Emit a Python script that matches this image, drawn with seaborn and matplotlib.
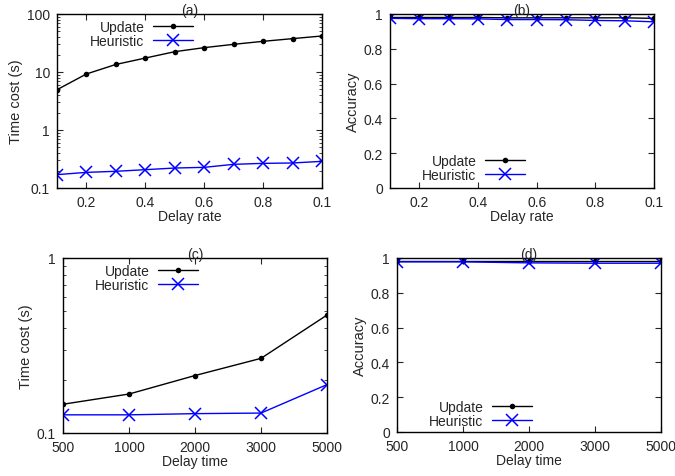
import numpy as np
import pandas as pd
import matplotlib
matplotlib.use("Agg")
import matplotlib.pyplot as plt
import matplotlib.ticker as mticker
import seaborn as sns

# datos
delay_rate = [0.1, 0.2, 0.3, 0.4, 0.5, 0.6, 0.7, 0.8, 0.9, 1.0]
rate_ticks = [0.2, 0.4, 0.6, 0.8, 1.0]
rate_tick_labels = ["0.2", "0.4", "0.6", "0.8", "0.1"]
time_update_rate = [4.95, 9.25, 13.5, 17.4, 22.4, 26.3, 30.0, 33.8, 37.6, 41.8]
time_heur_rate = [0.170, 0.186, 0.194, 0.207, 0.221, 0.227, 0.256, 0.266, 0.270, 0.288]
acc_update_rate = [0.98, 0.98, 0.98, 0.98, 0.978, 0.978, 0.978, 0.978, 0.978, 0.975]
acc_heur_rate = [0.975, 0.973, 0.973, 0.972, 0.968, 0.968, 0.967, 0.963, 0.961, 0.955]

delay_time = ["500", "1000", "2000", "3000", "5000"]
time_update_dt = [0.146, 0.167, 0.213, 0.267, 0.472]
time_heur_dt = [0.127, 0.127, 0.129, 0.130, 0.189]
acc_update_dt = [0.98, 0.98, 0.98, 0.98, 0.98]
acc_heur_dt = [0.978, 0.978, 0.972, 0.970, 0.970]

series = ["Update", "Heuristic"]

sns.set_style("ticks")
plt.rcParams['font.family'] = ['Liberation Sans', 'DejaVu Sans']
plt.rcParams['font.size'] = 10
plt.rcParams['xtick.direction'] = 'in'
plt.rcParams['ytick.direction'] = 'in'
plt.rcParams['xtick.top'] = True
plt.rcParams['ytick.right'] = True

fig = plt.figure(figsize=(6.75, 4.77), dpi=100)
W, H = 675.0, 477.0


def make_ax(l, t, r, b):
    return fig.add_axes([l / W, 1 - b / H, (r - l) / W, (b - t) / H])


ax_a = make_ax(57, 15, 322, 189)
ax_b = make_ax(390, 15, 654, 189)
ax_c = make_ax(63, 259, 327, 434)
ax_d = make_ax(397, 259, 661, 433)


def dibujar(ax, x, y_up, y_heur):
    # Update: linea negra con puntos
    sns.lineplot(x=x, y=y_up, color="black", marker="o", markersize=4,
                 markeredgewidth=0, markeredgecolor="black",
                 sort=False, lw=1, ax=ax, label=series[0])
    # Heuristic: linea azul con cruces
    sns.lineplot(x=x, y=y_heur, color="#0000ff", marker="x", markersize=9,
                 markeredgewidth=1.1, markeredgecolor="#0000ff",
                 sort=False, lw=1, ax=ax, label=series[1])
    for sp in ax.spines.values():
        sp.set_linewidth(1)
        sp.set_color("black")
    ax.tick_params(length=4, width=0.8, pad=5, labelsize=10)
    ax.tick_params(which='minor', length=2.5, width=0.6)


def leyenda(ax, loc, anchor):
    ax.legend(ax.lines[:2], series, loc=loc, bbox_to_anchor=anchor,
              frameon=False, markerfirst=False, handlelength=2.9,
              handletextpad=0.6, labelspacing=0.0, borderpad=0,
              borderaxespad=0, fontsize=10)


# (a)
dibujar(ax_a, delay_rate, time_update_rate, time_heur_rate)
ax_a.set_yscale("log")
ax_a.set_ylim(0.1, 100)
ax_a.set_yticks([0.1, 1, 10, 100], ["0.1", "1", "10", "100"])
ax_a.set_xlim(0.1, 1.0)
ax_a.set_xticks(rate_ticks, rate_tick_labels)
ax_a.set_xlabel("Delay rate", labelpad=0)
ax_a.set_ylabel("Time cost (s)", labelpad=3, fontsize=10.5)
ax_a.set_title("(a)", pad=0, fontsize=10)
leyenda(ax_a, "upper right", (0.513, 0.965))

# (b)
dibujar(ax_b, delay_rate, acc_update_rate, acc_heur_rate)
ax_b.set_ylim(0, 1)
ax_b.set_yticks([0, 0.2, 0.4, 0.6, 0.8, 1], ["0", "0.2", "0.4", "0.6", "0.8", "1"])
ax_b.set_xlim(0.1, 1.0)
ax_b.set_xticks(rate_ticks, rate_tick_labels)
ax_b.set_xlabel("Delay rate", labelpad=0)
ax_b.set_ylabel("Accuracy", labelpad=3, fontsize=10.5)
ax_b.set_title("(b)", pad=0, fontsize=10)
leyenda(ax_b, "lower right", (0.511, 0.035))

# (c)
dibujar(ax_c, delay_time, time_update_dt, time_heur_dt)
ax_c.set_yscale("log")
ax_c.set_ylim(0.1, 1)
ax_c.set_yticks([0.1, 1], ["0.1", "1"])
ax_c.set_xlim(0, 4)
ax_c.set_xlabel("Delay time", labelpad=0)
ax_c.set_ylabel("Time cost (s)", labelpad=3, fontsize=10.5)
ax_c.set_title("(c)", pad=0, fontsize=10)
leyenda(ax_c, "upper right", (0.511, 0.966))

# (d)
dibujar(ax_d, delay_time, acc_update_dt, acc_heur_dt)
ax_d.set_ylim(0, 1)
ax_d.set_yticks([0, 0.2, 0.4, 0.6, 0.8, 1], ["0", "0.2", "0.4", "0.6", "0.8", "1"])
ax_d.set_xlim(0, 4)
ax_d.set_xlabel("Delay time", labelpad=0)
ax_d.set_ylabel("Accuracy", labelpad=3, fontsize=10.5)
ax_d.set_title("(d)", pad=0, fontsize=10)
leyenda(ax_d, "lower right", (0.511, 0.025))

for ax in [ax_b, ax_d]:
    ax.minorticks_off()
for ax in [ax_a, ax_c]:
    ax.yaxis.set_minor_formatter(mticker.NullFormatter())
for ax in [ax_a, ax_b, ax_c, ax_d]:
    ax.tick_params(axis='x', which='minor', bottom=False, top=False)

fig.savefig("out.png", dpi=100)
